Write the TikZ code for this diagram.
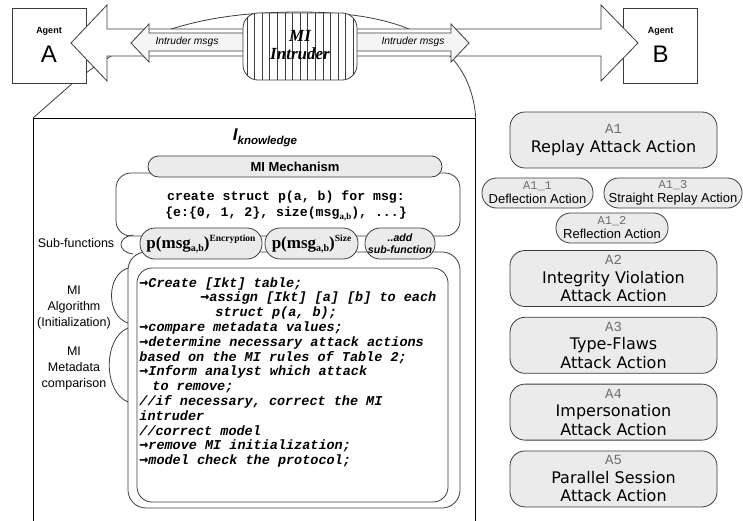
\documentclass[tikz,border=0pt]{standalone}
\usepackage{fontspec}
\setmainfont{Liberation Serif}
\setsansfont{Liberation Sans}
\setmonofont{Liberation Mono}
\newfontfamily\verdanafont{DejaVu Sans}
\newfontfamily\codefont{Liberation Mono}[UprightFont={* Bold Italic}]
\newfontfamily\arrowfont{DejaVu Sans Mono}[UprightFont={* Bold Oblique}]
\usetikzlibrary{positioning}

\definecolor{boxfill}{HTML}{EBEBEB}
\definecolor{boxedge}{HTML}{3C3C3C}
\definecolor{tagtext}{HTML}{6E6E6E}
\definecolor{msgfill}{HTML}{F5F5F5}

\newcommand{\setfs}[2]{\fontsize{#1}{#2}\selectfont}
\newcommand{\abidx}{\raisebox{-2.5pt}{\rmfamily\bfseries\setfs{9}{9}a,b}}
\newcommand{\pmsg}[1]{{\rmfamily\bfseries\setfs{17}{17}p(msg\raisebox{-3pt}{\setfs{10}{10}a,b})\raisebox{7pt}{\setfs{9.5}{9.5}#1}}}
\newcommand{\atag}[2]{{\ttfamily\color{tagtext}\setfs{#1}{#1}#2}}
\newcommand{\stepar}{{\arrowfont\setfs{15}{14.8}→}}

\tikzset{
    agent/.style={draw=boxedge, fill=white, minimum width=74pt, minimum height=75pt, inner sep=0pt},
    attack/.style={draw=boxedge, fill=boxfill, rounded corners=15pt, minimum width=207pt,
        minimum height=56pt, inner sep=0pt, align=center, font=\verdanafont\setfs{16}{18.5}},
    subattack/.style={draw=boxedge, fill=boxfill, rounded corners=14.5pt, minimum height=30pt,
        inner sep=0pt, align=center, font=\sffamily\setfs{13}{14}},
    pill/.style={draw=boxedge, fill=boxfill, rounded corners=15pt, minimum height=31pt, inner sep=0pt},
    msglabel/.style={font=\sffamily\itshape\setfs{10.3}{10.3}, inner sep=0pt},
    sidelabel/.style={font=\sffamily\setfs{12.5}{16}, align=center, inner sep=0pt}
}

\begin{document}
\begin{tikzpicture}[x=1pt, y=-1pt, line width=0.8pt]
    \useasboundingbox (0,0) rectangle (743,520);

    % knowledge frame and the lens towards the intruder
    \node[draw, minimum width=442pt, minimum height=420pt, anchor=north west, inner sep=0pt] (knowledge) at (33,118) {};
    \draw[boxedge] (86,73) .. controls (150,25) and (220,12) .. (300,12)
        .. controls (400,12) and (470,40) .. (knowledge.north east);

    \node[agent] (agentA) at (49,45.5) {};
    \node[agent] (agentB) at (660.5,45.5) {};
    \draw[boxedge] ([xshift=-14pt]agentA.south east) -- (knowledge.north west);

    % channel between the agents
    \draw[boxedge, fill=white] (71,43) -- (107,5) -- (107,29) -- (601,29) -- (601,5) -- (638,43)
        -- (601,81) -- (601,56) -- (107,56) -- (107,81) -- cycle;
    \draw[boxedge, fill=msgfill] (243,33) -- (149,33) -- (149,24) -- (131,43) -- (149,62) -- (149,51) -- (243,51);
    \draw[boxedge, fill=msgfill] (357,33) -- (451,33) -- (451,24) -- (469,43) -- (451,62) -- (451,51) -- (357,51);
    \node[msglabel] (msgleft) at (187,42) {Intruder msgs};
    \node[msglabel] (msgright) at (413,42) {Intruder msgs};

    \node[draw=boxedge, fill=white, rounded corners=15pt, minimum width=114pt, minimum height=67pt,
        path picture={\foreach \k in {-7,...,7}
            \draw[boxedge, line width=0.6pt] ([xshift=\k*7.6pt]path picture bounding box.north)
                -- ([xshift=\k*7.6pt]path picture bounding box.south);}] (intruder) at (300,46.5) {};
    \node[font=\rmfamily\bfseries\itshape\setfs{17}{18}, align=center] (intrudername) at (300,45) {MI\\Intruder};

    \node[font=\sffamily\bfseries\setfs{9}{9}] (agentAtag) at (49,31) {Agent};
    \node[font=\sffamily\setfs{24}{24}] (agentAname) at (49,54) {A};
    \node[font=\sffamily\bfseries\setfs{9}{9}] (agentBtag) at (660.5,31) {Agent};
    \node[font=\sffamily\setfs{24}{24}] (agentBname) at (660.5,54) {B};

    % inside the intruder
    \node[font=\sffamily\bfseries\itshape] (ktitle) at (265,138)
        {{\setfs{17}{17}I}\raisebox{-4pt}{\setfs{11.5}{11.5}knowledge}};

    \node[draw=boxedge, rounded corners=15pt, minimum width=344pt, minimum height=63pt, inner sep=0pt] (structbox) at (288,204.5) {};
    \node[draw=boxedge, rounded corners=18pt, minimum width=332pt, minimum height=256pt, inner sep=0pt] (algobox) at (294,380) {};
    \node[draw=boxedge, rounded corners=15pt, minimum width=311pt, minimum height=234pt, inner sep=0pt] (stepbox) at (292.5,385) {};
    \node[draw=boxedge, fill=boxfill, rounded corners=10.5pt, minimum width=294pt, minimum height=21pt,
        inner sep=0pt, font=\sffamily\bfseries\setfs{13}{13}] (mechanism) at (295,166.5) {MI Mechanism};

    \node[font=\ttfamily\bfseries\setfs{13.2}{16}, align=center] (structdef) at (286,206)
        {create struct p(a, b) for msg:\\\{e:\{0, 1, 2\}, size(msg\abidx), ...\}};

    \node[pill, minimum width=122pt] (subenc) at (201,243.5) {\pmsg{Encryption}};
    \node[pill, minimum width=93pt] (subsize) at (311.5,243.5) {\pmsg{Size}};
    \node[pill, minimum width=70pt, align=center, font=\sffamily\bfseries\itshape\setfs{10.6}{12}] (subadd) at (400,243.5) {..add\\sub-function};

    \node[font=\codefont\setfs{13.5}{14.8}, align=left, anchor=north west, inner sep=0pt] (steps) at (139,277)
        {\stepar Create [Ikt] table;\\
         \hspace*{61pt}\stepar assign [Ikt] [a] [b] to each\\
         \hspace*{76pt}struct p(a, b);\\
         \stepar compare metadata values;\\
         \stepar determine necessary attack actions\\
         based on the MI rules of Table 2;\\
         \stepar Inform analyst which attack\\
         \hspace*{13pt}to remove;\\
         //if necessary, correct the MI\\
         intruder\\
         //correct model\\
         \stepar remove MI initialization;\\
         \stepar model check the protocol;};

    % brackets and their labels
    \node[sidelabel] (sublabel) at (76,243) {Sub-functions};
    \node[sidelabel] (algolabel) at (74,307) {MI\\Algorithm\\(Initialization)};
    \node[sidelabel] (metalabel) at (74,368) {MI\\Metadata\\comparison};
    \draw[boxedge] (133,235) .. controls (117,237) and (117,252) .. (133,254);
    \draw[boxedge] (128,268) .. controls (106,275) and (106,316) .. (128,323);
    \draw[boxedge] (128,328) .. controls (103,338) and (103,392) .. (128,402);

    % attack actions
    \node[attack] (replay) at (613.5,140) {\atag{14}{A1}\\Replay Attack Action};
    \node[subattack, minimum width=111pt] (deflect) at (537.5,193) {\atag{12}{A1\_1}\\Deflection Action};
    \node[subattack, minimum width=138pt] (straight) at (673,193) {\atag{12}{A1\_3}\\Straight Replay Action};
    \node[subattack, minimum width=112pt] (reflect) at (612,228) {\atag{12}{A1\_2}\\Reflection Action};
    \node[attack] (integrity) at (613.5,278.5) {\atag{14}{A2}\\Integrity Violation\\Attack Action};
    \node[attack, below=10pt of integrity] (typeflaw) {\atag{14}{A3}\\Type-Flaws\\Attack Action};
    \node[attack, below=10pt of typeflaw] (imperson) {\atag{14}{A4}\\Impersonation\\Attack Action};
    \node[attack, below=10pt of imperson] (parallel) {\atag{14}{A5}\\Parallel Session\\Attack Action};
\end{tikzpicture}
\end{document}
